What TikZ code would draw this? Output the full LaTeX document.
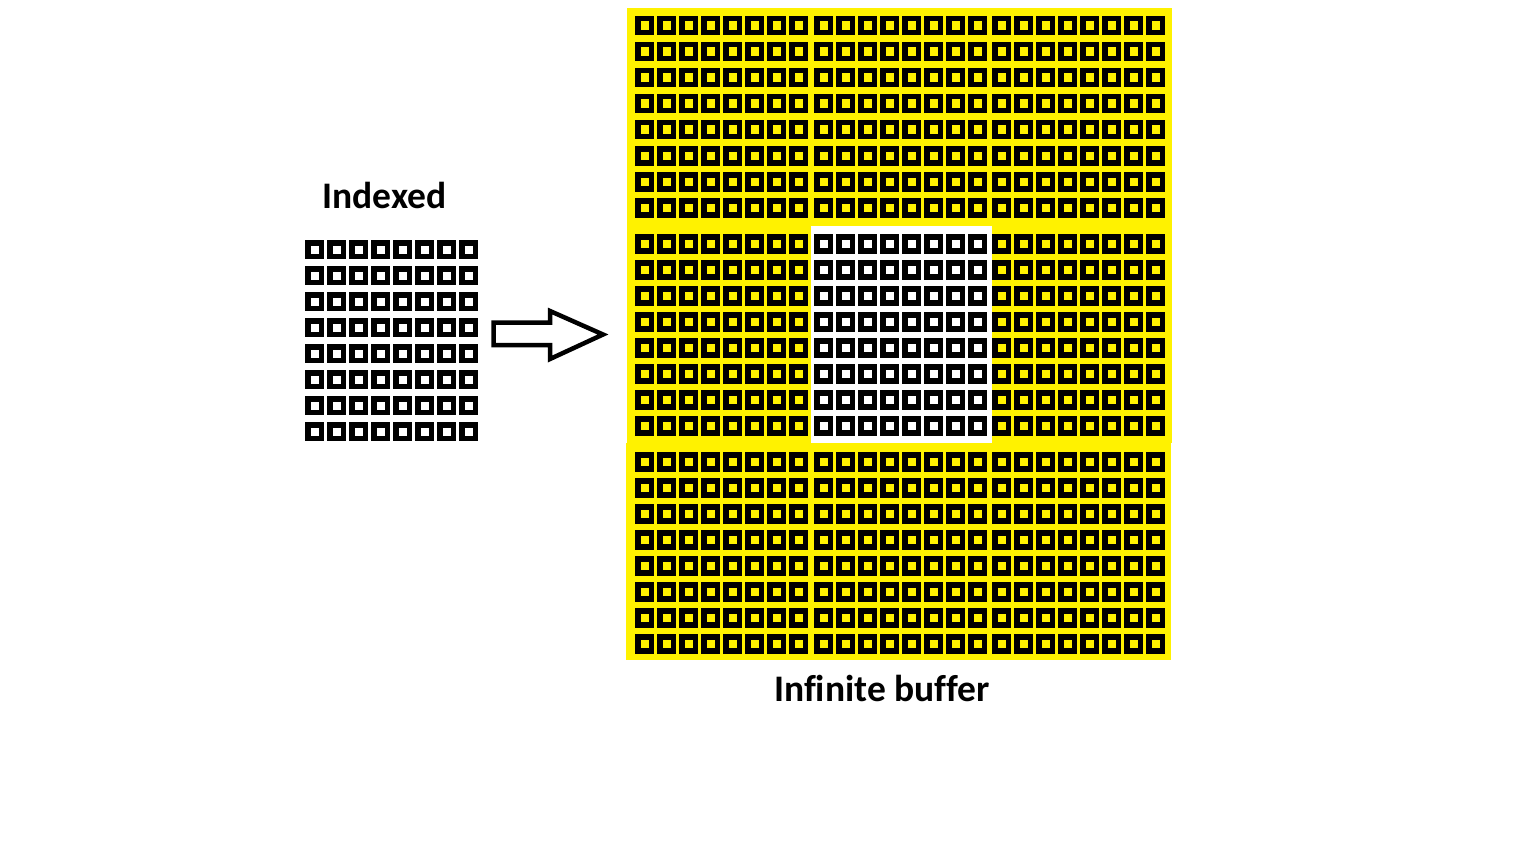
\documentclass[tikz,border=0pt]{standalone}
\usepackage{fontspec}
\setmainfont[Ligatures=NoCommon]{Carlito}
\definecolor{paintyellow}{RGB}{255,242,0}
\tikzset{
  cellbox/.style={draw=black,line width=5.5pt},
  caption/.style={font=\bfseries\fontsize{37.5}{44}\selectfont,anchor=base,inner sep=0pt}
}
\begin{document}
\begin{tikzpicture}[x=1pt,y=-1pt]
    \useasboundingbox (0,0) rectangle (1536,864);
    % yellow buffer with the white window in the middle
    \fill[paintyellow] (627,8) rectangle (1172,443);
    \fill[paintyellow] (626,443) rectangle (1171,660);
    \fill[white] (811,226) rectangle (992,443);
    % 3x3 blocks of 8x8 cells
    \foreach \by in {16,234,452}
      \foreach \bx in {635,814,992}
        \foreach \i in {0,...,7}
          \foreach \j in {0,...,7}
            \draw[cellbox] ({\bx+22*\i+2.75},{\by+26*\j+2.75}) rectangle +(13.5,14);
    % the indexed grid
    \foreach \i in {0,...,7}
      \foreach \j in {0,...,7}
        \draw[cellbox] ({305+22*\i+2.75},{240+26*\j+2.75}) rectangle +(13.5,13.5);
    % block arrow
    \draw[line width=4.5pt,line join=miter] (493.5,322.5) -- (550,322.5) -- (550,311)
      -- (603,334.5) -- (550,359) -- (550,345) -- (493.5,345) -- cycle;
    \node[caption] (indexed) at (384.5,208.5) {Indexed};
    \node[caption] (buffer) at (882,701.5) {Infinite buffer};
  \end{tikzpicture}
\end{document}
